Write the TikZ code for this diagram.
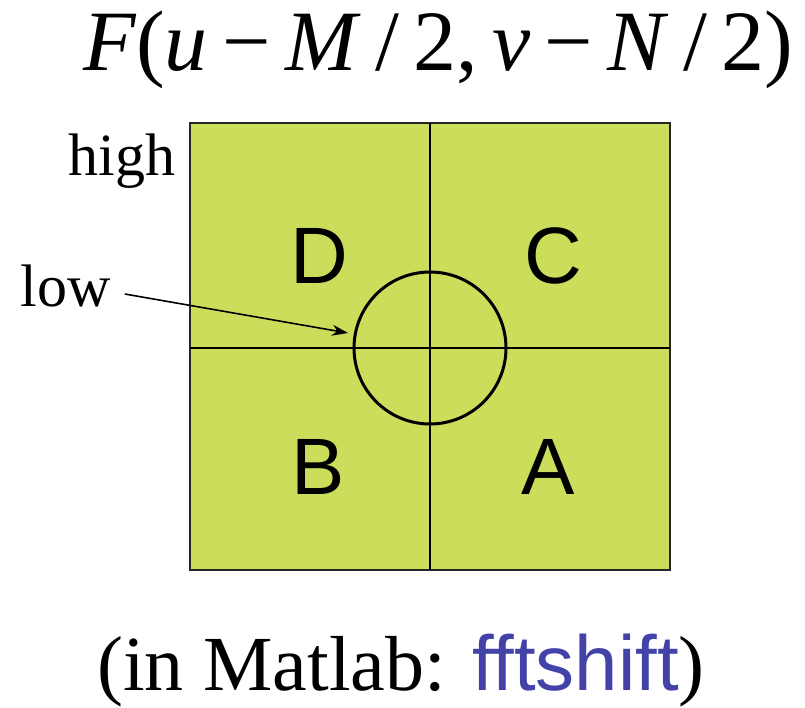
\documentclass[tikz,border=0pt]{standalone}
\usepackage{fontspec}
\setmainfont{Liberation Serif}
\setsansfont{Liberation Sans}
\usetikzlibrary{arrows.meta}

\definecolor{quadgreen}{RGB}{204,221,92}
\definecolor{cmdblue}{RGB}{66,66,168}

\begin{document}
\begin{tikzpicture}[x=0.5pt, y=-0.5pt,
  quad/.style={fill=quadgreen, draw=black!85, line width=1pt},
  letter/.style={font=\sffamily\fontsize{40}{40}\selectfont, anchor=base},
  label/.style={font=\fontsize{30}{30}\selectfont, anchor=base west, inner sep=0pt}]
  \useasboundingbox (0,0) rectangle (805,708);

  % square split into four quadrants, origin in the middle
  \coordinate (NW) at (190,123);
  \coordinate (SE) at (670,570);
  \coordinate (O)  at (430,348);
  \draw[quad] (NW) rectangle (SE);
  \draw[line width=1pt] (O |- NW) -- (O |- SE);
  \draw[line width=1pt] (O -| NW) -- (O -| SE);

  % low frequencies gathered round the centre
  \draw[line width=1.5pt] (O) circle (76);

  \node[letter] (D) at (319,283) {D};
  \node[letter] (C) at (553,283) {C};
  \node[letter] (B) at (318,494) {B};
  \node[letter] (A) at (548,494) {A};

  \node[label] (high) at (68,175) {high};
  \node[label] (low)  at (20,306) {low};
  \coordinate (tip) at (348,333);
  \draw[line width=0.8pt, -{Stealth[length=8pt, width=5.5pt]}]
    ([xshift=7pt, yshift=6pt]low.base east) -- (tip);

  \node[anchor=base, font=\fontsize{43}{43}\selectfont] (title) at (438,70)
    {\textit{F}(\textit{u}\,−\,\textit{M}\,/\,2,\,\textit{v}\,−\,\textit{N}\,/\,2)};
  \node[anchor=base, font=\fontsize{39}{39}\selectfont] (note) at (401,690)
    {(in Matlab: \textcolor{cmdblue}{\sffamily fftshift})};
\end{tikzpicture}
\end{document}
